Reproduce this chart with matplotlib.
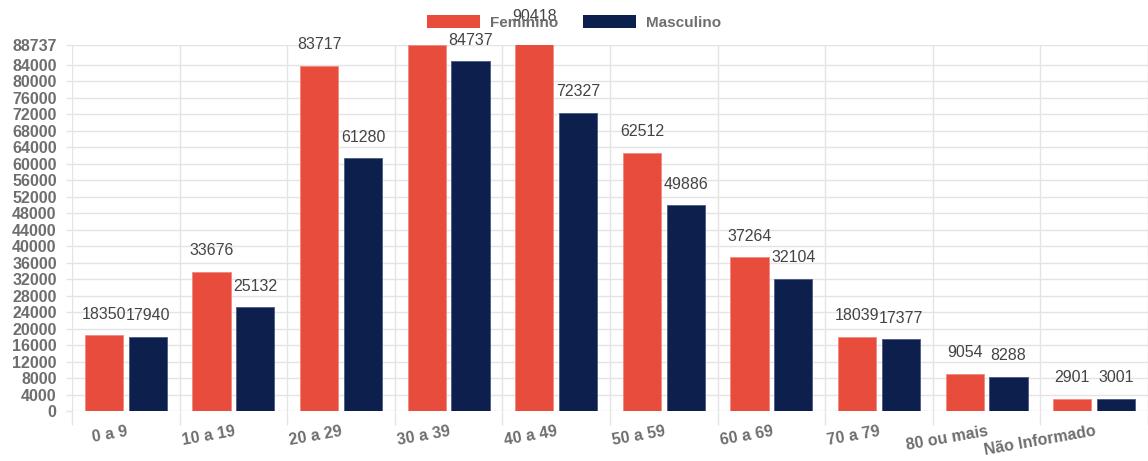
import numpy as np
import matplotlib
matplotlib.use('Agg')
import matplotlib.pyplot as plt
from matplotlib.patches import Patch

plt.rcParams['font.family'] = ['Liberation Sans', 'DejaVu Sans']

faixas = ['0 a 9', '10 a 19', '20 a 29', '30 a 39', '40 a 49', '50 a 59',
          '60 a 69', '70 a 79', '80 ou mais', 'Não Informado']
feminino = [18350, 33676, 83717, 88737, 90418, 62512, 37264, 18039, 9054, 2901]
masculino = [17940, 25132, 61280, 84737, 72327, 49886, 32104, 17377, 8288, 3001]
y_max = 88737
y_ticks = list(range(0, 84001, 4000)) + [y_max]
sem_rotulo_fem = [3]  # rotulo escondido no topo do grafico

cor_fem = '#e74c3c'
cor_masc = '#0d1f4c'
cinza = '#6e6e6e'
grade = '#e4e4e4'

fig = plt.figure(figsize=(11.48, 4.61), dpi=100)
ax = fig.add_axes([72/1148, 50/461, 1 - 72/1148, (411-45)/461])

x = np.arange(len(faixas))
larg = 0.355
desl = 0.204
b1 = ax.bar(x - desl, feminino, larg, color=cor_fem, edgecolor='#f08a7e', linewidth=0.6, zorder=3)
b2 = ax.bar(x + desl, masculino, larg, color=cor_masc, edgecolor='#4a5a80', linewidth=0.6, zorder=3)

# rotulos de valor acima das barras
for i, v in enumerate(feminino):
    if i in sem_rotulo_fem:
        continue
    ax.annotate(str(v), (x[i] - desl, v), xytext=(0, 12), textcoords='offset points',
                ha='center', va='baseline', fontsize=11.5, color='#444444',
                annotation_clip=False, zorder=5)
for i, v in enumerate(masculino):
    ax.annotate(str(v), (x[i] + desl, v), xytext=(0, 12), textcoords='offset points',
                ha='center', va='baseline', fontsize=11.5, color='#444444',
                annotation_clip=False, zorder=5)

ax.set_xlim(-0.5, len(faixas) - 0.5)
ax.set_ylim(0, y_max)
ax.set_yticks(y_ticks)
ax.set_yticklabels([str(t) for t in y_ticks], fontsize=11.5, fontweight='bold', color=cinza)

ax.set_xticks(x)
ax.set_xticklabels(faixas, rotation=10, ha='right', va='top', rotation_mode='anchor',
                   fontsize=11.5, fontweight='bold', color=cinza)
ax.tick_params(axis='x', which='major', length=0, pad=9)
ax.set_xticks(np.arange(-0.5, len(faixas), 1), minor=True)
ax.tick_params(axis='x', which='minor', length=10, color=grade, width=1)
ax.tick_params(axis='y', length=4.5, color=grade, width=1, pad=6.5)

ax.grid(axis='y', color=grade, linewidth=1, zorder=0)
ax.grid(axis='x', which='minor', color=grade, linewidth=1, zorder=0)
ax.grid(axis='x', which='major', visible=False)
for s in ax.spines.values():
    s.set_visible(False)

fig.legend([Patch(facecolor=cor_fem), Patch(facecolor=cor_masc)], ['Feminino', 'Masculino'],
           loc='center', bbox_to_anchor=(0.5004, 1 - 22.5/461), ncol=2, frameon=False,
           handlelength=3.47, handleheight=0.98, handletextpad=0.65, columnspacing=1.63,
           borderpad=0, labelcolor=cinza, prop={'weight': 'bold', 'size': 11})

fig.savefig('out.png', dpi=100)
